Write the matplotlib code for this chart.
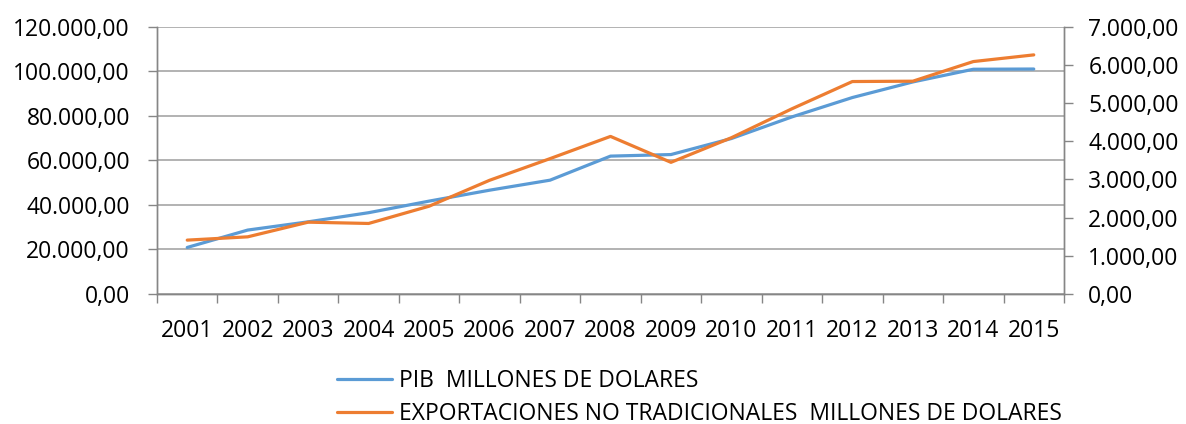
import matplotlib
matplotlib.use("Agg")
import matplotlib.pyplot as plt
from matplotlib.ticker import FuncFormatter, MultipleLocator, FixedLocator

years = ["2001", "2002", "2003", "2004", "2005", "2006", "2007", "2008",
         "2009", "2010", "2011", "2012", "2013", "2014", "2015"]
pib = [20900, 28700, 32400, 36500, 41700, 46600, 51100, 61900,
       62600, 69800, 79500, 88200, 95200, 100900, 101000]
export_nt = [1411, 1497, 1881, 1847, 2299, 2978, 3545, 4127,
             3448, 4093, 4850, 5564, 5573, 6087, 6262]

label_pib = "PIB  MILLONES DE DOLARES"
label_exp = "EXPORTACIONES NO TRADICIONALES  MILLONES DE DOLARES"

BLUE = "#5B9BD5"
ORANGE = "#ED7D31"
GRID = "#A6A6A6"
AXIS = "#868686"

plt.rcParams["font.family"] = ["Open Sans", "DejaVu Sans"]
plt.rcParams["text.color"] = "black"
FS = 16.5


def es_fmt(v, _pos=None):
    # Spanish style: dot thousands, comma decimals
    s = f"{v:,.2f}"
    return s.replace(",", "X").replace(".", ",").replace("X", ".")


fig = plt.figure(figsize=(11.86, 4.24), dpi=100)
ax = fig.add_axes([157 / 1186, 1 - 294 / 424, 907 / 1186, (294 - 26.7) / 424])
ax2 = ax.twinx()

x = list(range(len(years)))
l1, = ax.plot(x, pib, color=BLUE, lw=2.3, solid_capstyle="round", zorder=3)
l2, = ax2.plot(x, export_nt, color=ORANGE, lw=2.3, solid_capstyle="round", zorder=3)

ax.set_xlim(-0.5, len(years) - 0.5)
ax.set_ylim(0, 120000)
ax2.set_ylim(0, 7000)

ax.yaxis.set_major_locator(MultipleLocator(20000))
ax2.yaxis.set_major_locator(MultipleLocator(1000))
ax.yaxis.set_major_formatter(FuncFormatter(es_fmt))
ax2.yaxis.set_major_formatter(FuncFormatter(es_fmt))

ax.set_xticks(x)
ax.set_xticklabels(years)
ax.xaxis.set_minor_locator(FixedLocator([i - 0.5 for i in range(len(years) + 1)]))
ax.tick_params(axis="x", which="major", length=0, pad=18, labelsize=FS, labelcolor="black")
ax.tick_params(axis="x", which="minor", length=6.5, width=1, color=AXIS, direction="out")
ax.tick_params(axis="y", length=6.5, width=1, color=AXIS, pad=13, labelsize=FS, labelcolor="black")
ax2.tick_params(axis="y", length=6.5, width=1, color=AXIS, pad=11, labelsize=FS, labelcolor="black")

ax.grid(axis="y", color=GRID, lw=1.2)
ax.set_axisbelow(True)

for a in (ax, ax2):
    a.spines["top"].set_visible(False)
    for side in ("left", "right", "bottom"):
        a.spines[side].set_color(AXIS)
        a.spines[side].set_linewidth(1)

fig.legend([l1, l2], [label_pib, label_exp], loc="upper left",
           bbox_to_anchor=(337 / 1186, 1 - 369 / 424), frameon=False,
           fontsize=FS, handlelength=2.4, handletextpad=0.3, labelspacing=0.38,
           borderpad=0, borderaxespad=0)

fig.savefig("out.png", dpi=100)
